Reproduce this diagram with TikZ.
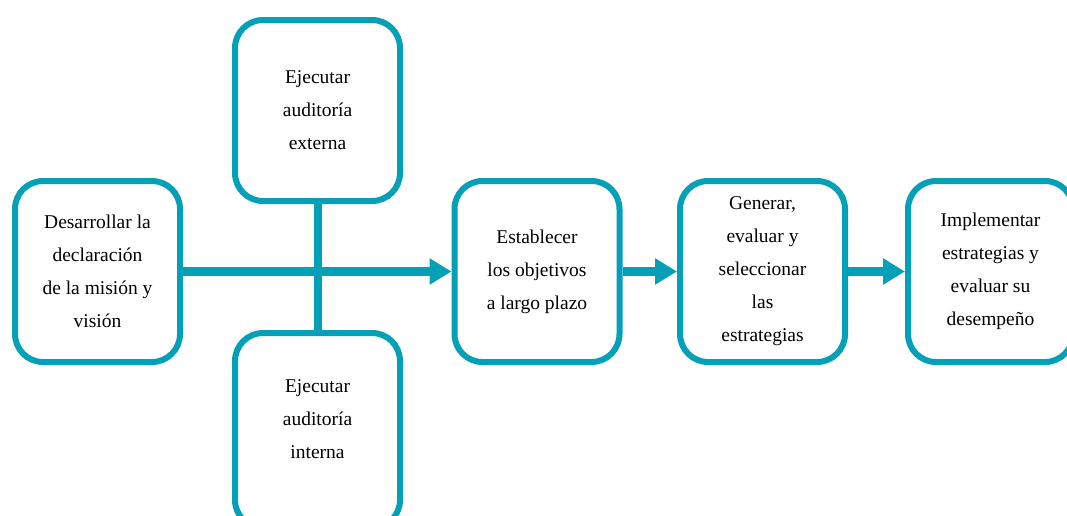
\documentclass[tikz,border=0pt]{standalone}
\usepackage{fontspec}
\setmainfont{Liberation Serif}
\usetikzlibrary{arrows.meta,positioning,shadows}
\definecolor{tealblue}{RGB}{4,160,184}
\tikzset{stage/.style={draw=tealblue, line width=6pt, fill=white, rounded corners=28pt,
                       minimum width=165pt, minimum height=181pt, align=center,
                       font=\fontsize{19.5}{33}\selectfont},
        flow/.style={draw=tealblue, line width=9pt,
                     -{Triangle[width=25pt,length=22pt]}},
        link/.style={draw=tealblue, line width=8pt},
        }

\begin{document}
\begin{tikzpicture}[x=1pt,y=-1pt]
    \useasboundingbox (0,0) rectangle (1067,515);

    \node[stage] (mision) at (97.5,271.5) {Desarrollar la\\declaración\\de la misión y\\visión};
    \node[stage] (externa) at (317.5,110.5) {Ejecutar\\auditoría\\externa};
    \node[stage, minimum height=195pt] (interna) at (317.5,430.5) {Ejecutar\\auditoría\\interna\\[-11pt]};
    \node[stage] (objetivos) at (537,271.5) {Establecer\\los objetivos\\a largo plazo};
    \node[stage] (estrategias) at (762.5,271.5) {Generar,\\evaluar y\\seleccionar\\las\\estrategias};
    \node[stage] (implementar) at (990.5,271.5) {Implementar\\estrategias y\\evaluar su\\desempeño};

    % auditorias
    \draw[link] (externa) -- (interna);
    \draw[flow] (mision) -- (objetivos);
    \draw[flow] (objetivos) -- (estrategias);
    \draw[flow] (estrategias) -- (implementar);

\end{tikzpicture}
\end{document}
